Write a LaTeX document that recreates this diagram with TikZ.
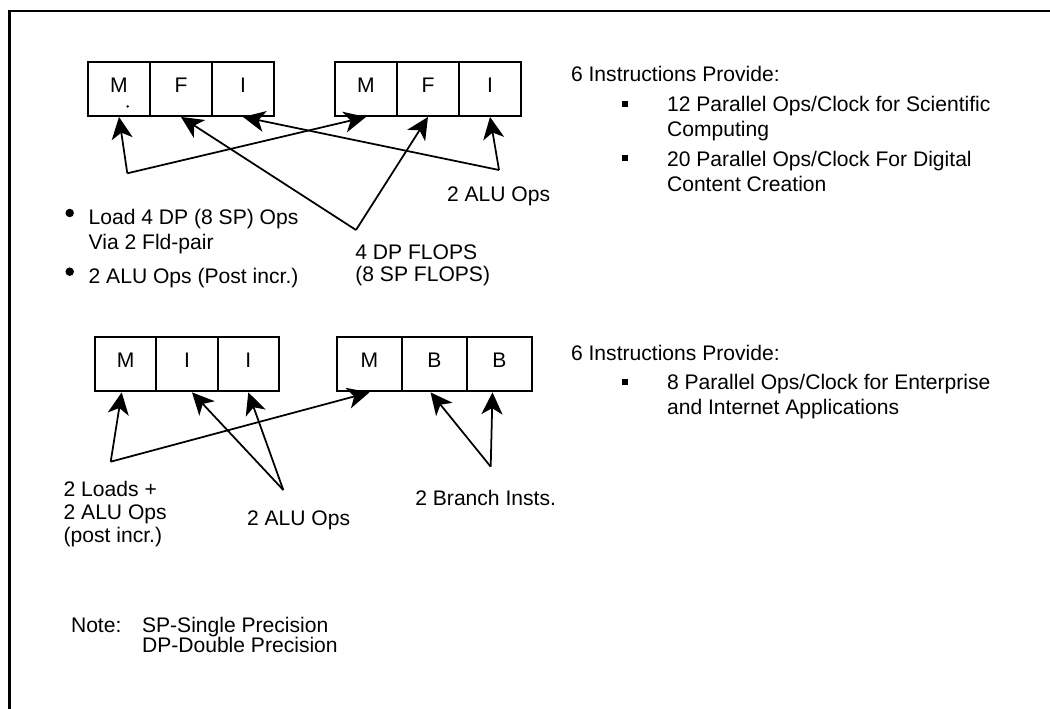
\documentclass[tikz,border=0pt]{standalone}
\usepackage{fontspec}
\setmainfont{Liberation Sans}
\usetikzlibrary{arrows.meta,calc}
\begin{document}
\begin{tikzpicture}[x=0.02cm,y=-0.02cm,
  every node/.style={font=\fontsize{12}{14}\selectfont, inner sep=0pt},
  txt/.style={anchor=base west},
  cell/.style={draw, line width=1.1pt, minimum height=1.08cm, text height=0.3cm, text depth=0.16cm},
  ctop/.style={cell, minimum width=1.24cm},
  cbl/.style={cell, minimum width=1.227cm},
  cbr/.style={cell, minimum width=1.3cm},
  arr/.style={line width=1pt, -{Stealth[length=12.5pt,width=12pt,inset=3.5pt]}},
  dotb/.style={circle, fill, minimum size=0.17cm},
  sqb/.style={rectangle, fill, minimum size=0.12cm},
]
\useasboundingbox (0,0) rectangle (1050,709);
% frame
\draw[line width=1.5pt, line join=miter] (9.7,709) -- (9.7,11) -- (1050,11);

% top bundles
\node[ctop] (tm1) at (119,89) {M};
\node[ctop] (tf1) at (181,89) {F};
\node[ctop] (ti1) at (243,89) {I};
\node[ctop] (tm2) at (366,89) {M};
\node[ctop] (tf2) at (428,89) {F};
\node[ctop] (ti2) at (490,89) {I};
\fill (127.7,106.5) circle (1.3);

\coordinate (ta) at (127.3,173.3);
\coordinate (tb) at (499,170);
\coordinate (tc) at (356,230);
\draw[arr] (ta) -- (tm1.south);
\draw[arr] (ta) -- (tm2.south);
\draw[arr] (tb) -- (ti2.south);
\draw[arr] (tb) -- (ti1.south);
\draw[arr] (tc) -- (tf1.south);
\draw[arr] (tc) -- (tf2.south);

\node[txt] (talu) at (446.7,201.7) {2 ALU Ops};
\node[txt] (tfl1) at (355,259.3) {4 DP FLOPS};
\node[txt] (tfl2) at (355,281.7) {(8 SP FLOPS)};

\node[dotb] (bd1) at (69.7,213) {};
\node[dotb] (bd2) at (69.7,271.7) {};
\node[txt] (bl1) at (88.3,224.3) {Load 4 DP (8 SP) Ops};
\node[txt] (bl2) at (88.3,249.3) {Via 2 Fld-pair};
\node[txt] (bl3) at (88.3,283.3) {2 ALU Ops (Post incr.)};

% top right text
\node[txt] (r1) at (570.7,81.7) {6 Instructions Provide:};
\node[sqb] (rs1) at (625,104) {};
\node[txt] (r2) at (666.7,111.7) {12 Parallel Ops/Clock for Scientific};
\node[txt] (r3) at (666.7,136.7) {Computing};
\node[sqb] (rs2) at (625,158.3) {};
\node[txt] (r4) at (666.7,166.7) {20 Parallel Ops/Clock For Digital};
\node[txt] (r5) at (666.7,191.7) {Content Creation};

% bottom bundles
\node[cbl] (bm1) at (125.7,364.4) {M};
\node[cbl] (bi1) at (187,364.4) {I};
\node[cbl] (bi2) at (248.3,364.4) {I};
\node[cbr] (bm2) at (369.5,364.4) {M};
\node[cbr] (bb1) at (434.5,364.4) {B};
\node[cbr] (bb2) at (499.5,364.4) {B};

\coordinate (ba) at (110.7,461.7);
\coordinate (bb) at (283.3,490);
\coordinate (bc) at (490.7,466.7);
\draw[arr] (ba) -- ($(bm1.south)+(-4,0)$);
\draw[arr] (ba) -- (bm2.south);
\draw[arr] (bb) -- ($(bi1.south)+(5,0)$);
\draw[arr] (bb) -- (bi2.south);
\draw[arr] (bc) -- ($(bb1.south)+(-4,0)$);
\draw[arr] (bc) -- ($(bb2.south)+(-7,0)$);

\node[txt] (bt1) at (63.3,496.7) {2 Loads +};
\node[txt] (bt2) at (63.3,519.3) {2 ALU Ops};
\node[txt] (bt3) at (63.3,542) {(post incr.)};
\node[txt] (bt4) at (246.7,525) {2 ALU Ops};
\node[txt] (bt5) at (415,505) {2 Branch Insts.};

% bottom right text
\node[txt] (s1) at (570.7,360.7) {6 Instructions Provide:};
\node[sqb] (ss1) at (625,381.7) {};
\node[txt] (s2) at (666.7,389.3) {8 Parallel Ops/Clock for Enterprise};
\node[txt] (s3) at (666.7,414.3) {and Internet Applications};

% note
\node[txt] (n1) at (70.7,632.7) {Note:};
\node[txt] (n2) at (141.7,632.7) {SP-Single Precision};
\node[txt] (n3) at (141.7,652) {DP-Double Precision};
\end{tikzpicture}
\end{document}
